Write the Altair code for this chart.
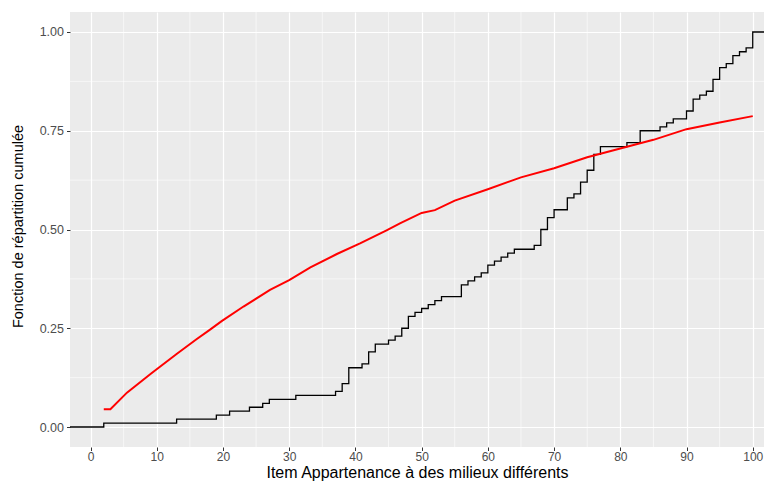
import altair as alt
import pandas as pd

# Empirical CDF steps (x position, cumulative level after the step)
step_x = [2, 13, 19, 21, 24, 26, 27, 31, 37, 38, 39, 41, 42, 43, 45, 46, 47, 48,
          49, 50, 51, 52, 53, 56, 57, 58, 59, 60, 61, 62, 63, 64, 67, 68, 69, 70,
          72, 73, 74, 75, 76, 77, 81, 83, 86, 87, 88, 90, 91, 92, 93, 94, 95, 96,
          97, 98, 99, 100]
step_y = [0.01, 0.02, 0.03, 0.04, 0.05, 0.06, 0.07, 0.08, 0.09, 0.11, 0.15, 0.16,
          0.19, 0.21, 0.22, 0.23, 0.25, 0.28, 0.29, 0.30, 0.31, 0.32, 0.33, 0.36,
          0.37, 0.38, 0.39, 0.41, 0.42, 0.43, 0.44, 0.45, 0.46, 0.50, 0.53, 0.55,
          0.58, 0.59, 0.62, 0.65, 0.69, 0.71, 0.72, 0.75, 0.76, 0.77, 0.78, 0.80,
          0.83, 0.84, 0.85, 0.88, 0.91, 0.92, 0.94, 0.95, 0.96, 1.00]

# Theoretical CDF (red curve)
curve_x = [2, 3, 5.5, 9.2, 13, 16, 18, 19.8, 23.1, 27.1, 30, 33.2, 37.2, 40.7,
           44.7, 46.8, 50, 52, 55, 60, 65, 70, 75, 80, 85, 90, 95, 100]
curve_y = [0.045, 0.045, 0.087, 0.136, 0.185, 0.222, 0.246, 0.268, 0.305, 0.347,
           0.372, 0.404, 0.438, 0.465, 0.498, 0.516, 0.542, 0.549, 0.573, 0.602,
           0.632, 0.655, 0.683, 0.705, 0.727, 0.754, 0.771, 0.787]

x_ticks = [0, 10, 20, 30, 40, 50, 60, 70, 80, 90, 100]
y_ticks = [0.0, 0.25, 0.5, 0.75, 1.0]
x_minor = [5, 15, 25, 35, 45, 55, 65, 75, 85, 95]
y_minor = [0.125, 0.375, 0.625, 0.875]

x_title = "Item Appartenance à des milieux différents"
y_title = "Fonction de répartition cumulée"

x_dom = [-3.1, 101.7]
y_dom = [-0.0506, 1.0506]

ecdf = pd.DataFrame({"x": [-20] + step_x + [130], "y": [0.0] + step_y + [1.0]})
curve = pd.DataFrame({"x": curve_x, "y": curve_y})
xm = pd.DataFrame({"x": x_minor})
ym = pd.DataFrame({"y": y_minor})

xs = alt.Scale(domain=x_dom, nice=False, zero=False)
ys = alt.Scale(domain=y_dom, nice=False, zero=False)

xaxis = alt.Axis(values=x_ticks, title=x_title, titleFontSize=16, labelFontSize=12,
                 titlePadding=2, labelPadding=1)
yaxis = alt.Axis(values=y_ticks, format=".2f", title=y_title, titleFontSize=14.5,
                 labelFontSize=12.5, titlePadding=14, labelPadding=3, titleY=214)

minor_x = alt.Chart(xm).mark_rule(color="white", strokeWidth=0.6).encode(
    x=alt.X("x:Q", scale=xs, axis=xaxis))
minor_y = alt.Chart(ym).mark_rule(color="white", strokeWidth=0.6).encode(
    y=alt.Y("y:Q", scale=ys, axis=yaxis))

step = alt.Chart(ecdf).mark_line(interpolate="step-after", color="black",
                                 strokeWidth=1.3, clip=True).encode(
    x=alt.X("x:Q", scale=xs, axis=xaxis),
    y=alt.Y("y:Q", scale=ys, axis=yaxis))

red = alt.Chart(curve).mark_line(color="#FF0000", strokeWidth=2, clip=True).encode(
    x=alt.X("x:Q", scale=xs, axis=xaxis),
    y=alt.Y("y:Q", scale=ys, axis=yaxis))

chart = alt.layer(minor_x, minor_y, step, red).properties(
    width=694, height=435,
    padding={"left": 70, "top": 12, "right": 0, "bottom": 37},
    autosize=alt.AutoSizeParams(type="none"),
    background="white",
).configure_view(fill="#EBEBEB", stroke=None).configure_axis(
    grid=True, gridColor="white", gridWidth=1.2, domain=False,
    tickColor="#333333", tickSize=3.5, tickWidth=1,
    labelColor="#4D4D4D", labelFont="Liberation Sans",
    titleFont="Liberation Sans", titleColor="black", titleFontWeight="normal",
)

chart.save("out.html", embed_options={"renderer": "svg", "actions": False})
